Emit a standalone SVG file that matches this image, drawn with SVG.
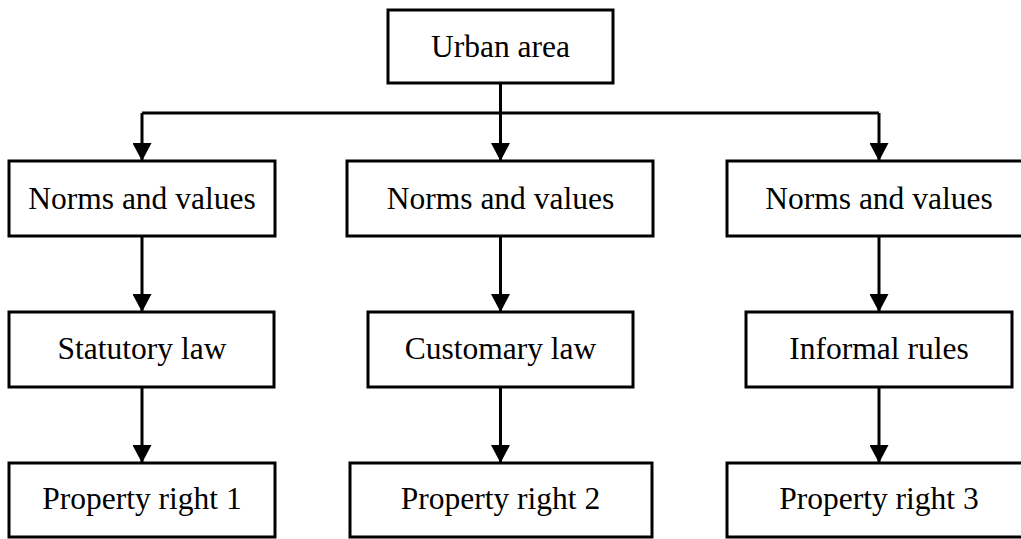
<svg xmlns="http://www.w3.org/2000/svg" width="1021" height="539" viewBox="0 0 1021 539">
  <style>
    .box { fill: #ffffff; stroke: #000000; stroke-width: 3; }
    .lbl { font-family: "Liberation Serif", "Times New Roman", serif; font-size: 31.5px; fill: #000000; text-anchor: middle; }
    .wire { fill: none; stroke: #000000; stroke-width: 3; }
  </style>
  <defs>
    <marker id="arrow" viewBox="0 0 18 19" refX="18" refY="9.5" markerWidth="18" markerHeight="19" markerUnits="userSpaceOnUse" orient="auto">
      <path d="M0,0 L18,9.5 L0,19 Z" fill="#000000"/>
    </marker>
  </defs>
  <rect width="1021" height="539" fill="#ffffff"/>

  <g id="connectors">
    <path class="wire" d="M500.5,83 V113"/>
    <path class="wire" d="M142,113 H879"/>
    <path class="wire" d="M142,113 V161" marker-end="url(#arrow)"/>
    <path class="wire" d="M500.5,113 V161" marker-end="url(#arrow)"/>
    <path class="wire" d="M879,113 V161" marker-end="url(#arrow)"/>
    <path class="wire" d="M142,236 V312" marker-end="url(#arrow)"/>
    <path class="wire" d="M500.5,236 V312" marker-end="url(#arrow)"/>
    <path class="wire" d="M879,236 V312" marker-end="url(#arrow)"/>
    <path class="wire" d="M142,387 V463" marker-end="url(#arrow)"/>
    <path class="wire" d="M500.5,387 V463" marker-end="url(#arrow)"/>
    <path class="wire" d="M879,387 V463" marker-end="url(#arrow)"/>
  </g>

  <g id="urban-area">
    <rect class="box" x="388" y="10" width="225" height="73"/>
    <text class="lbl" x="500.5" y="57">Urban area</text>
  </g>

  <g id="norms-1">
    <rect class="box" x="9" y="161" width="266" height="75"/>
    <text class="lbl" x="142" y="209">Norms and values</text>
  </g>
  <g id="norms-2">
    <rect class="box" x="347" y="161" width="306" height="75"/>
    <text class="lbl" x="500.5" y="209">Norms and values</text>
  </g>
  <g id="norms-3">
    <rect class="box" x="727" y="161" width="304" height="75"/>
    <text class="lbl" x="879" y="209">Norms and values</text>
  </g>

  <g id="statutory-law">
    <rect class="box" x="9" y="312" width="265" height="75"/>
    <text class="lbl" x="142" y="359">Statutory law</text>
  </g>
  <g id="customary-law">
    <rect class="box" x="368" y="312" width="265" height="75"/>
    <text class="lbl" x="500.5" y="359">Customary law</text>
  </g>
  <g id="informal-rules">
    <rect class="box" x="746" y="312" width="266" height="75"/>
    <text class="lbl" x="879" y="359">Informal rules</text>
  </g>

  <g id="property-right-1">
    <rect class="box" x="9" y="463" width="266" height="74"/>
    <text class="lbl" x="142" y="509">Property right 1</text>
  </g>
  <g id="property-right-2">
    <rect class="box" x="350" y="463" width="302" height="74"/>
    <text class="lbl" x="500.5" y="509">Property right 2</text>
  </g>
  <g id="property-right-3">
    <rect class="box" x="727" y="463" width="304" height="74"/>
    <text class="lbl" x="879" y="509">Property right 3</text>
  </g>
</svg>
